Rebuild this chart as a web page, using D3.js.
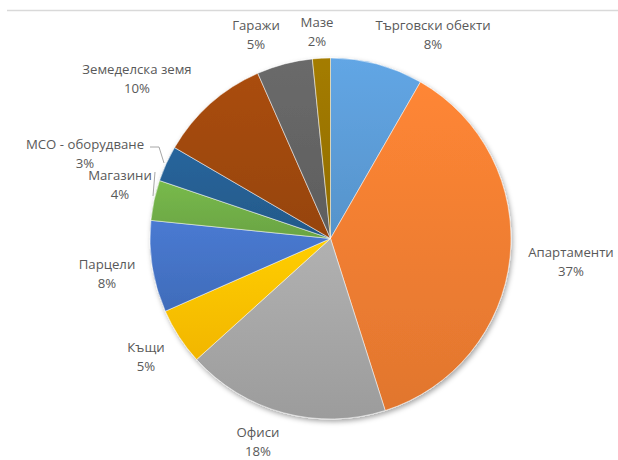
<!DOCTYPE html>
<html>
<head>
<meta charset="utf-8">
<script src="https://cdn.jsdelivr.net/npm/d3@7/dist/d3.min.js"></script>
<style>
  html, body { margin: 0; padding: 0; background: #fff; }
  svg { display: block; }
  text { font-family: "Open Sans", "Noto Sans", sans-serif; fill: #595959; }
</style>
</head>
<body>
<svg id="chart" width="618" height="460"></svg>
<script>
// Property categories, clockwise from 12 o'clock
const categories = ["Търговски обекти", "Апартаменти", "Офиси", "Къщи", "Парцели",
                    "Магазини", "МСО - оборудване", "Земеделска земя", "Гаражи", "Мазе"];
// Share of each category, in percent
const shares = [8.3, 36.8, 18.2, 5.1, 8.2, 3.6, 3.2, 10.0, 5.0, 1.6];
// Office-style palette
const colors = ["#5B9BD5", "#ED7D31", "#A5A5A5", "#FFC000", "#4472C4",
                "#70AD47", "#255E91", "#9E480E", "#636363", "#997300"];

// Label anchors (centre of the first label line) and leader line points
const labelSpots = [
  { x: 433, y: 25 }, { x: 571, y: 252 }, { x: 258, y: 432 }, { x: 146, y: 347 },
  { x: 107, y: 264 }, { x: 120, y: 175 }, { x: 85, y: 144 }, { x: 137, y: 69 },
  { x: 256, y: 25 }, { x: 317, y: 22 }
];
const leaders = {
  5: [[155, 172], [153, 196]],
  6: [[150, 147], [159, 147], [164, 163]]
};

const svg = d3.select("#chart");
const cx = 330.5, cy = 238.5, R = 180.5;

// Faint rule along the top of the chart frame
svg.append("line")
  .attr("x1", 7).attr("x2", 618).attr("y1", 10.5).attr("y2", 10.5)
  .attr("stroke", "#d9d9d9").attr("stroke-width", 1.5);

const defs = svg.append("defs");
const shadow = defs.append("filter").attr("id", "pieShadow")
  .attr("x", "-10%").attr("y", "-10%").attr("width", "125%").attr("height", "125%");
shadow.append("feDropShadow").attr("dx", 1.5).attr("dy", 2.5)
  .attr("stdDeviation", 2.5).attr("flood-color", "#000").attr("flood-opacity", 0.35);

colors.forEach((c, i) => {
  const g = defs.append("linearGradient").attr("id", "grad" + i)
    .attr("x1", 0).attr("y1", 0).attr("x2", 0).attr("y2", 1);
  g.append("stop").attr("offset", "0%").attr("stop-color", d3.color(c).brighter(0.2));
  g.append("stop").attr("offset", "100%").attr("stop-color", d3.color(c).darker(0.15));
});

const data = categories.map((name, i) => ({ name, value: shares[i], i }));
const pie = d3.pie().sort(null).value(d => d.value);
const arc = d3.arc().innerRadius(0).outerRadius(R);
const arcs = pie(data);

const g = svg.append("g").attr("transform", `translate(${cx},${cy})`);
g.append("g").attr("filter", "url(#pieShadow)")
  .selectAll("path").data(arcs).join("path")
  .attr("d", arc)
  .attr("fill", d => `url(#grad${d.data.i})`)
  .attr("stroke", "#ffffff").attr("stroke-width", 0.5);

// Leader lines
const line = d3.line();
Object.entries(leaders).forEach(([k, pts]) => {
  svg.append("path").attr("d", line(pts))
    .attr("fill", "none").attr("stroke", "#a6a6a6").attr("stroke-width", 1);
});

// Two-line data labels: name and rounded percentage
const labels = svg.append("g").attr("font-size", 13.2).attr("text-anchor", "middle");
arcs.forEach(d => {
  const p = labelSpots[d.data.i];
  const t = labels.append("text").attr("x", p.x).attr("y", p.y);
  t.append("tspan").attr("x", p.x).attr("dy", "0.35em").text(d.data.name);
  t.append("tspan").attr("x", p.x).attr("dy", 19.5).text(Math.round(d.data.value) + "%");
});
</script>
</body>
</html>
